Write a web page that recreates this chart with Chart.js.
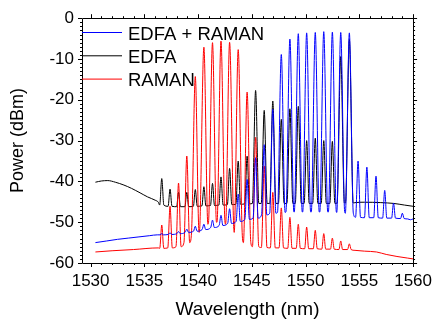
<!DOCTYPE html>
<html>
<head>
<meta charset="utf-8">
<script src="https://cdn.jsdelivr.net/npm/chart.js@4/dist/chart.umd.min.js"></script>
<style>
  body { margin: 0; background: #fff; }
</style>
</head>
<body>
<canvas id="myChart" width="440" height="322"></canvas>
<script>
// channel grid (nm)
const channels = [1536.62, 1537.39, 1538.18, 1538.95, 1539.74, 1540.54, 1541.34, 1542.13, 1542.93, 1543.73,
  1544.56, 1545.35, 1546.15, 1546.95, 1547.74, 1548.54, 1549.32, 1550.10, 1550.90, 1551.69,
  1552.49, 1553.27, 1554.07, 1554.88, 1555.70, 1556.55, 1557.36, 1558.18, 1559.00];

// EDFA + RAMAN (blue)
const bluePeaks = [-52.8, -52.6, -52.3, -51.7, -51.0, -50.5, -49.5, -48.3, -46.7, -43.1,
  -39.5, -34.2, -31.0, -22.3, -8.9, -5.1, -3.8, -3.6, -3.5, -3.3,
  -3.4, -3.5, -3.6, -35.0, -36.5, -38.7, -42.2, -45.3, -47.8];
const blueFloor = [-53.1, -53.0, -52.8, -52.5, -52.2, -51.8, -51.3, -50.8, -50.3, -49.8,
  -49.3, -49.0, -48.2, -47.8, -47.6, -47.5, -47.5, -47.5, -47.5, -47.5,
  -47.5, -47.6, -47.8, -48.8, -48.9, -48.9, -49.0, -49.0, -49.1];
const blueStart = [[1530.45, -55.0], [1531.5, -54.6], [1532.5, -54.2], [1533.5, -53.9], [1534.5, -53.6], [1535.5, -53.3], [1536.2, -53.1]];
const blueEnd = [[1559.5, -49.2], [1559.75, -49.4], [1560, -49.2]];

// EDFA (black)
const blackPeaks = [-39.3, -41.9, -42.7, -42.7, -42.0, -41.3, -40.5, -38.9, -36.8, -35.0,
  -33.8, -17.7, -22.6, -20.3, -24.8, -22.2, -21.6, -30.0, -29.4, -30.0,
  -30.2, -9.4, -5.2, null, null, null, null, null, null];
const blackFloor = [-45.8, -46.1, -46.2, -46.2, -46.1, -46.0, -45.9, -45.8, -45.7, -45.6,
  -45.5, -45.4, -45.4, -45.4, -45.4, -45.4, -45.4, -45.4, -45.4, -45.4,
  -45.4, -45.3, -45.3, null, null, null, null, null, null];
const blackStart = [[1530.45, -40.2], [1531.0, -39.9], [1531.6, -39.8], [1532.3, -40.2], [1533.1, -40.9],
  [1533.8, -41.7], [1534.6, -42.8], [1535.3, -43.8], [1536.0, -44.6], [1536.3, -45.1]];
const blackEnd = [[1554.6, -45.2], [1555.5, -45.1], [1557.0, -45.2], [1558.2, -45.4], [1559.2, -45.8], [1560, -46.1]];

// RAMAN (red)
const redPeaks = [-50.7, -46.1, -40.4, -33.8, -14.3, -7.1, -6.0, -5.6, -5.9, -7.7,
  -18.1, -29.2, -36.2, -42.7, -46.5, -48.8, -50.5, -51.2, -52.0, -52.8,
  -53.9, -54.6, -55.3, null, null, null, null, null, null];
const redFloor = [-56.4, -56.3, -56.0, -55.0, -52.5, -50.5, -50.0, -50.0, -50.5, -52.5,
  -55.0, -56.0, -56.2, -56.3, -56.3, -56.4, -56.4, -56.5, -56.5, -56.6,
  -56.6, -56.7, -56.7, null, null, null, null, null, null];
const redStart = [[1530.45, -57.3], [1532.0, -57.0], [1534.0, -56.7], [1536.3, -56.3]];
const redEnd = [[1554.6, -56.9], [1555.5, -57.1], [1556.6, -57.3], [1557.5, -57.9], [1558.5, -58.4], [1559.5, -58.8], [1560, -59.0]];

const xTicks = [1530, 1535, 1540, 1545, 1550, 1555, 1560];
const yTicks = [-60, -50, -40, -30, -20, -10, 0];

const FONT = '"Liberation Sans", Arial, sans-serif';

// turn start/end pieces + per channel peak/floor into one trace
function trace(start, peaks, floors, end) {
  const pts = start.map(p => ({ x: p[0], y: p[1] }));
  channels.forEach((c, i) => {
    if (peaks[i] === null) return;
    const w = Math.min(0.37, 0.16 + 0.005 * (peaks[i] - floors[i]));
    pts.push({ x: c - w, y: floors[i] }, { x: c, y: peaks[i] }, { x: c + w, y: floors[i] });
  });
  end.forEach(p => pts.push({ x: p[0], y: p[1] }));
  return pts;
}

// frame + major/minor ticks, Origin style
const frameTicks = {
  id: 'frameTicks',
  afterDraw(chart) {
    const { ctx, chartArea: a, scales: { x, y } } = chart;
    ctx.save();
    ctx.strokeStyle = '#000';
    ctx.lineWidth = 1;
    ctx.beginPath();
    ctx.rect(Math.round(a.left) + 0.5, Math.round(a.top) + 0.5, Math.round(a.right - a.left), Math.round(a.bottom - a.top));
    for (let v = 1530; v <= 1560; v++) {
      const len = v % 5 === 0 ? 4 : 2;
      const px = Math.round(x.getPixelForValue(v)) + 0.5;
      ctx.moveTo(px, a.bottom); ctx.lineTo(px, a.bottom + len);
      ctx.moveTo(px, a.top); ctx.lineTo(px, a.top - len);
    }
    for (let v = -60; v <= 0; v++) {
      const len = v % 10 === 0 ? 4 : 2;
      const py = Math.round(y.getPixelForValue(v)) + 0.5;
      ctx.moveTo(a.left, py); ctx.lineTo(a.left - len, py);
      ctx.moveTo(a.right, py); ctx.lineTo(a.right + len, py);
    }
    ctx.stroke();

    // legend in the top-left corner
    ctx.font = '18.5px ' + FONT;
    ctx.fillStyle = '#000';
    ctx.textAlign = 'left';
    ctx.textBaseline = 'alphabetic';
    chart.data.datasets.forEach((ds, i) => {
      const ly = 32.5 + i * 23.3;
      ctx.strokeStyle = ds.borderColor;
      ctx.beginPath();
      ctx.moveTo(a.left, ly); ctx.lineTo(a.left + 40, ly);
      ctx.stroke();
      ctx.fillText(ds.label, a.left + 46, ly + 7);
    });
    ctx.restore();
  }
};

const ctx = document.getElementById('myChart').getContext('2d');

new Chart(ctx, {
  type: 'line',
  data: {
    datasets: [
      { label: 'EDFA + RAMAN', data: trace(blueStart, bluePeaks, blueFloor, blueEnd), borderColor: '#0000ff', order: 0 },
      { label: 'EDFA', data: trace(blackStart, blackPeaks, blackFloor, blackEnd), borderColor: '#000000', order: 2 },
      { label: 'RAMAN', data: trace(redStart, redPeaks, redFloor, redEnd), borderColor: '#ff0000', order: 1 }
    ]
  },
  options: {
    responsive: false,
    animation: false,
    layout: { padding: { left: 0, right: 22, top: 15, bottom: 0 } },
    elements: {
      point: { radius: 0 },
      line: { borderWidth: 1, cubicInterpolationMode: 'monotone', fill: false }
    },
    plugins: {
      legend: { display: false },
      tooltip: { enabled: false }
    },
    scales: {
      x: {
        type: 'linear',
        min: 1529.2,
        max: 1560,
        afterBuildTicks: s => { s.ticks = xTicks.map(v => ({ value: v })); },
        afterFit: s => { s.height = 59; },
        grid: { display: false, drawTicks: false },
        border: { display: false },
        ticks: { callback: v => String(v), color: '#000', font: { family: FONT, size: 17 }, padding: 8, maxRotation: 0, autoSkip: false },
        title: { display: true, text: 'Wavelength (nm)', color: '#000', font: { family: FONT, size: 19 }, padding: { top: 0, bottom: 1 } }
      },
      y: {
        min: -60,
        max: 0,
        afterBuildTicks: s => { s.ticks = yTicks.map(v => ({ value: v })); },
        afterFit: s => { s.width = 82; },
        grid: { display: false, drawTicks: false },
        border: { display: false },
        ticks: { callback: v => String(v), color: '#000', font: { family: FONT, size: 17 }, padding: 8 },
        title: { display: true, text: 'Power (dBm)', color: '#000', font: { family: FONT, size: 18 }, padding: { top: 7, bottom: 0 } }
      }
    }
  },
  plugins: [frameTicks]
});
</script>
</body>
</html>
